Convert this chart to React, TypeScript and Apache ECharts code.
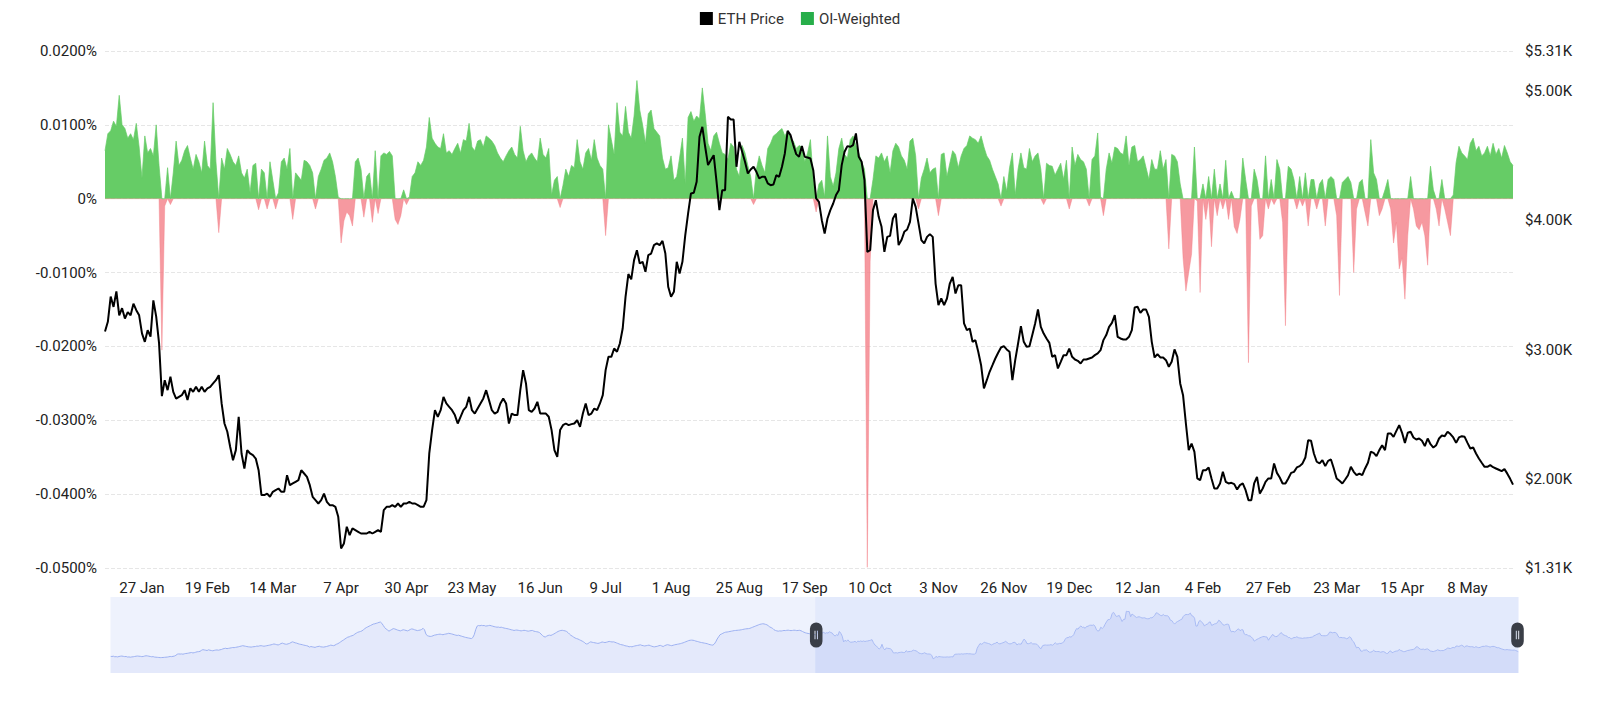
import React, { useEffect, useRef } from "react";
import * as echarts from "echarts";

// Daily categories start here (first day of the full history shown in the slider)
const firstDay = "2023-09-06";

// Tick labels shown on the x axis (dates of the visible labels)
const tickDates = [
  "2025-01-27", "2025-02-19", "2025-03-14", "2025-04-07", "2025-04-30", "2025-05-23",
  "2025-06-16", "2025-07-09", "2025-08-01", "2025-08-25", "2025-09-17", "2025-10-10",
  "2025-11-03", "2025-11-26", "2025-12-19", "2026-01-12", "2026-02-04", "2026-02-27",
  "2026-03-23", "2026-04-15", "2026-05-08",
];

// ETH price (USD), history before the zoom window (seen in the slider only)
const ethPriceHistory = [
  1630,1620,1640,1600,1610,1590,1620,1640,1650,1630,
  1610,1620,1580,1590,1570,1590,1600,1620,1640,1650,
  1640,1630,1610,1620,1650,1670,1660,1640,1620,1600,
  1610,1580,1570,1560,1550,1540,1545,1550,1560,1570,
  1580,1600,1620,1610,1630,1650,1700,1780,1800,1790,
  1800,1780,1810,1830,1840,1860,1880,1900,1870,1890,
  1920,1950,1960,1980,2050,2100,2080,2060,2040,2090,
  2060,2040,2020,2050,2070,2080,2060,2090,2110,2150,
  2180,2200,2170,2190,2210,2230,2250,2240,2260,2280,
  2300,2330,2350,2380,2360,2340,2320,2300,2290,2280,
  2300,2310,2320,2350,2340,2370,2380,2360,2340,2360,
  2380,2400,2420,2440,2470,2500,2480,2450,2430,2470,
  2530,2560,2520,2490,2480,2510,2540,2600,2650,2620,
  2580,2560,2520,2490,2470,2450,2420,2400,2380,2350,
  2280,2320,2300,2280,2260,2300,2320,2340,2300,2290,
  2280,2300,2320,2350,2380,2420,2400,2380,2420,2480,
  2520,2580,2650,2720,2780,2850,2920,2980,3000,3050,
  3080,3120,3200,3260,3320,3350,3380,3420,3500,3580,
  3650,3700,3750,3800,3850,3900,3920,3950,3980,4020,
  4040,3950,3800,3650,3550,3480,3400,3460,3520,3580,
  3560,3520,3480,3450,3420,3460,3500,3480,3450,3420,
  3460,3520,3560,3540,3500,3470,3440,3460,3480,3520,
  3600,3500,3200,3080,3050,3030,3040,3080,3120,3140,
  3160,3180,3190,3170,3150,3180,3200,3220,3250,3230,
  3210,3180,3150,3120,3100,3120,3080,3050,3020,2990,
  2960,2940,2920,2900,2880,2950,3150,3500,3750,3800,
  3780,3810,3790,3800,3760,3770,3790,3810,3780,3750,
  3720,3700,3680,3690,3660,3680,3650,3620,3600,3580,
  3560,3530,3500,3480,3450,3470,3480,3460,3440,3420,
  3440,3460,3450,3420,3400,3420,3440,3450,3400,3380,
  3360,3340,3300,3200,3100,3020,2990,3050,3100,3120,
  3100,3150,3200,3260,3320,3380,3420,3450,3460,3440,
  3420,3380,3300,3200,3110,3050,2980,2920,2880,2850,
  2800,2750,2700,2650,2550,2500,2520,2600,2650,2620,
  2600,2580,2560,2540,2560,2600,2640,2620,2600,2620,
  2650,2680,2660,2640,2650,2620,2580,2540,2500,2460,
  2440,2420,2380,2360,2340,2300,2320,2300,2330,2360,
  2380,2400,2420,2440,2400,2380,2360,2380,2400,2420,
  2380,2340,2310,2300,2320,2340,2380,2400,2360,2320,
  2380,2420,2450,2430,2400,2380,2410,2440,2460,2480,
  2500,2520,2550,2580,2620,2660,2700,2740,2760,2770,
  2760,2740,2700,2680,2650,2620,2600,2580,2560,2540,
  2520,2480,2450,2430,2420,2500,2650,2850,3000,3150,
  3200,3250,3300,3330,3340,3360,3380,3400,3420,3440,
  3450,3460,3470,3480,3500,3520,3540,3560,3570,3580,
  3600,3640,3680,3720,3760,3800,3840,3880,3900,3920,
  3910,3880,3850,3780,3700,3650,3600,3500,3450,3420,
  3400,3420,3410,3430,3450,3440,3460,3470,3450,3440,
  3450,3470,3460,3440,3450,3460,3430,3380,3330,3290,
  3260,3240,3220,3200,3190,3170,
];

// ETH price (USD), visible window, daily from 14 Jan 2025
const ethPrice = [
  3140,3215,3410,3330,3450,3265,3320,3240,3290,3265,
  3355,3305,3265,3125,3060,3150,3100,3380,3255,3050,
  2640,2763,2686,2790,2673,2620,2634,2647,2686,2610,
  2700,2673,2712,2673,2712,2673,2700,2712,2738,2763,
  2802,2583,2428,2364,2248,2144,2222,2480,2196,2080,
  2222,2196,2183,2157,2067,1874,1874,1886,1861,1899,
  1912,1925,1899,1899,2028,1951,1964,1977,1990,2067,
  2041,2015,1951,1861,1835,1809,1835,1886,1822,1796,
  1796,1783,1706,1461,1500,1629,1564,1616,1603,1590,
  1577,1577,1577,1590,1577,1590,1603,1590,1758,1783,
  1783,1796,1783,1809,1783,1809,1809,1822,1809,1809,
  1796,1783,1783,1835,2196,2377,2531,2480,2531,2634,
  2583,2557,2531,2493,2428,2480,2531,2557,2634,2531,
  2505,2544,2583,2622,2686,2609,2531,2505,2518,2583,
  2622,2583,2428,2505,2493,2493,2686,2841,2738,2531,
  2518,2544,2596,2505,2505,2505,2480,2377,2222,2170,
  2377,2415,2428,2415,2423,2428,2454,2402,2505,2583,
  2493,2505,2544,2531,2583,2647,2841,2944,2944,3008,
  2983,3047,3163,3408,3584,3543,3692,3769,3666,3679,
  3602,3731,3743,3808,3821,3808,3841,3743,3486,3408,
  3447,3679,3589,3679,3885,4053,4208,4213,4298,4646,
  4723,4569,4427,4466,4504,4298,4079,4233,4233,4801,
  4780,4780,4414,4607,4530,4453,4362,4393,4414,4375,
  4324,4337,4337,4285,4272,4277,4349,4337,4414,4517,
  4692,4659,4582,4512,4491,4574,4491,4486,4478,4388,
  4169,4143,4001,3898,4014,4079,4130,4195,4233,4427,
  4530,4574,4569,4582,4672,4491,4453,4311,3756,3769,
  4079,4156,4027,3950,3756,3872,3880,4014,4053,3808,
  3847,3911,3929,3988,4169,4104,3976,3847,3821,3872,
  3893,3872,3511,3344,3395,3344,3395,3511,3563,3434,
  3498,3498,3202,3150,3163,3060,3073,2983,2879,2699,
  2763,2828,2879,2931,2975,3016,3026,3001,2983,2763,
  2918,3047,3181,3060,3021,3026,3112,3202,3310,3176,
  3124,3086,3052,2944,2957,2854,2905,2957,2957,3008,
  2944,2923,2913,2892,2923,2923,2931,2939,2957,2970,
  2995,3073,3112,3176,3207,3266,3099,3086,3078,3078,
  3099,3150,3326,3331,3284,3310,3310,3253,3060,2939,
  2965,2939,2939,2918,2867,2905,3001,2944,2738,2647,
  2428,2222,2273,2209,2003,1990,2067,2067,2088,2003,
  1925,1925,1964,2054,1977,1964,1969,1959,1917,1951,
  1964,1912,1835,1835,1964,2015,1886,1925,1977,2003,
  2003,2119,2046,2010,1964,1964,2003,2046,2054,2088,
  2098,2119,2165,2299,2294,2196,2132,2119,2144,2098,
  2139,2150,2080,2003,1985,1964,1995,2028,2093,2054,
  2028,2041,2028,2080,2124,2209,2201,2175,2222,2260,
  2222,2351,2351,2325,2371,2415,2356,2278,2356,2364,
  2320,2304,2312,2294,2253,2312,2268,2242,2260,2312,
  2335,2330,2364,2346,2320,2278,2320,2330,2325,2278,
  2235,2242,2196,2157,2124,2093,2093,2106,2090,2080,
  2070,2060,2075,2040,2000,1955,
];

// OI-weighted funding rate (%), visible window, daily from 14 Jan 2025
const oiWeightedRate = [
  0.0065,0.0088,0.0092,0.0105,0.0098,0.0140,0.0100,0.0095,0.0082,0.0088,
  0.0080,0.0102,0.0070,0.0028,0.0085,0.0062,0.0068,0.0058,0.0100,0.0045,
  -0.0205,-0.0010,0.0042,-0.0008,0.0035,0.0078,0.0045,0.0052,0.0065,0.0072,
  0.0055,0.0040,0.0060,0.0050,0.0035,0.0078,0.0045,0.0040,0.0130,0.0050,
  -0.0046,0.0055,0.0040,0.0068,0.0060,0.0050,0.0045,0.0058,0.0035,0.0028,
  0.0040,0.0008,0.0045,0.0048,-0.0015,0.0040,0.0035,-0.0014,0.0050,0.0025,
  -0.0014,0.0008,0.0050,0.0055,0.0040,0.0068,-0.0028,0.0035,0.0030,0.0025,
  0.0052,0.0050,0.0045,0.0035,-0.0014,0.0030,0.0040,0.0052,0.0055,0.0062,
  0.0050,0.0030,0.0002,-0.0060,-0.0030,-0.0018,-0.0023,-0.0037,0.0050,0.0055,
  0.0040,-0.0025,0.0030,0.0035,-0.0032,0.0065,-0.0020,0.0058,0.0062,0.0060,
  0.0064,0.0058,-0.0028,-0.0035,-0.0023,0.0012,-0.0008,0.0002,0.0030,0.0035,
  0.0050,0.0045,0.0052,0.0070,0.0110,0.0082,0.0075,0.0070,0.0068,0.0088,
  0.0062,0.0065,0.0060,0.0068,0.0075,0.0062,0.0080,0.0078,0.0102,0.0070,
  0.0065,0.0078,0.0080,0.0070,0.0085,0.0082,0.0078,0.0072,0.0062,0.0055,
  0.0050,0.0058,0.0065,0.0070,0.0060,0.0055,0.0098,0.0065,0.0050,0.0058,
  0.0062,0.0055,0.0050,0.0082,0.0060,0.0055,0.0068,0.0005,0.0025,0.0030,
  -0.0012,0.0018,0.0040,0.0030,0.0045,0.0042,0.0080,0.0050,0.0040,0.0062,
  0.0068,0.0052,0.0080,0.0055,0.0045,0.0040,-0.0050,0.0100,0.0080,0.0060,
  0.0130,0.0090,0.0085,0.0125,0.0090,0.0082,0.0112,0.0160,0.0120,0.0100,
  0.0075,0.0115,0.0120,0.0095,0.0090,0.0085,0.0055,0.0040,0.0042,0.0058,
  0.0025,0.0030,0.0055,0.0082,0.0020,0.0110,0.0118,0.0105,0.0112,0.0108,
  0.0150,0.0115,0.0075,0.0065,0.0085,0.0090,0.0075,0.0062,0.0060,0.0053,
  0.0075,0.0070,0.0040,0.0030,0.0072,0.0062,0.0045,0.0030,-0.0008,0.0040,
  0.0058,0.0045,0.0035,0.0068,0.0075,0.0085,0.0088,0.0092,0.0095,0.0085,
  0.0092,0.0082,0.0078,0.0068,0.0072,0.0070,0.0050,0.0062,0.0080,0.0026,
  -0.0018,0.0020,0.0025,0.0002,0.0085,0.0030,0.0017,0.0035,0.0068,0.0082,
  0.0060,0.0055,0.0080,0.0085,0.0072,0.0062,0.0050,0.0040,-0.0499,-0.0085,
  0.0026,0.0058,0.0055,0.0062,0.0050,0.0058,0.0035,0.0065,0.0075,0.0070,
  0.0058,0.0052,0.0040,0.0078,0.0082,0.0058,-0.0014,0.0028,0.0040,0.0055,
  0.0035,0.0040,0.0042,-0.0023,0.0060,0.0062,0.0030,0.0048,0.0065,0.0060,
  0.0042,0.0058,0.0068,0.0072,0.0085,0.0082,0.0080,0.0075,0.0085,0.0070,
  0.0058,0.0052,0.0040,0.0030,0.0020,-0.0010,0.0030,0.0010,0.0042,0.0062,
  0.0005,0.0040,0.0062,0.0042,0.0040,0.0068,0.0050,0.0058,0.0062,0.0040,
  -0.0008,0.0048,0.0045,0.0044,0.0032,0.0040,0.0048,0.0026,0.0052,-0.0014,
  0.0070,0.0045,0.0060,0.0053,0.0050,0.0040,-0.0010,0.0053,0.0058,0.0089,
  0.0002,-0.0023,0.0040,0.0062,0.0048,0.0070,0.0068,0.0062,0.0060,0.0085,
  0.0045,0.0070,0.0072,0.0050,0.0053,0.0058,0.0042,0.0026,0.0053,0.0040,
  0.0040,0.0065,0.0040,0.0053,-0.0068,0.0060,0.0058,0.0050,0.0020,-0.0080,
  -0.0125,-0.0100,-0.0075,0.0070,-0.0003,-0.0127,0.0020,-0.0028,0.0030,-0.0065,
  0.0040,-0.0023,0.0020,-0.0014,0.0052,-0.0028,0.0010,-0.0038,-0.0047,-0.0028,
  0.0055,0.0026,-0.0222,-0.0010,0.0040,0.0026,-0.0055,-0.0050,0.0058,-0.0014,
  0.0026,-0.0008,0.0053,0.0040,-0.0032,-0.0172,0.0044,0.0040,0.0026,-0.0014,
  0.0030,-0.0010,0.0035,-0.0037,0.0026,0.0026,-0.0014,0.0020,0.0026,-0.0037,
  0.0026,0.0030,0.0026,-0.0023,-0.0131,0.0022,0.0026,0.0030,0.0022,-0.0100,
  -0.0014,0.0022,0.0026,-0.0019,-0.0037,0.0080,0.0035,0.0026,-0.0023,-0.0014,
  0.0012,0.0026,-0.0014,-0.0060,-0.0032,-0.0095,-0.0080,-0.0136,-0.0050,0.0030,
  -0.0014,-0.0037,-0.0042,-0.0032,-0.0050,-0.0090,0.0044,0.0012,-0.0014,-0.0037,
  0.0026,-0.0014,-0.0032,-0.0050,0.0005,0.0049,0.0071,0.0062,0.0058,0.0053,
  0.0075,0.0082,0.0065,0.0071,0.0058,0.0062,0.0071,0.0058,0.0075,0.0060,
  0.0068,0.0055,0.0072,0.0062,0.0050,0.0045,
];

const MONTHS = ["Jan", "Feb", "Mar", "Apr", "May", "Jun", "Jul", "Aug", "Sep", "Oct", "Nov", "Dec"];
const FONT = "Roboto";

function formatDay(iso: string): string {
  const [, m, d] = iso.split("-");
  return `${parseInt(d, 10)} ${MONTHS[parseInt(m, 10) - 1]}`;
}

export default function App() {
  const ref = useRef<HTMLDivElement>(null);

  useEffect(() => {
    if (!ref.current) return;
    const chart = echarts.init(ref.current, null, { renderer: "svg" });

    const histLen = ethPriceHistory.length;
    const total = histLen + ethPrice.length;
    const t0 = Date.parse(firstDay + "T00:00:00Z");
    const categories: string[] = [];
    for (let i = 0; i < total; i++) {
      categories.push(new Date(t0 + i * 86400000).toISOString().slice(0, 10));
    }
    const tickSet = new Set(tickDates);
    const price = [...ethPriceHistory, ...ethPrice];
    const rate: (number | null)[] = [...ethPriceHistory.map(() => null), ...oiWeightedRate];
    const ratePos = rate.map((v) => (v == null ? null : Math.max(v, 0)));
    const rateNeg = rate.map((v) => (v == null ? null : Math.min(v, 0)));

    const handlePath =
      "path://M6,0 A6,6 0 0 1 12,6 L12,18 A6,6 0 0 1 6,24 A6,6 0 0 1 0,18 L0,6 A6,6 0 0 1 6,0 Z " +
      "M4.4,8 L4.4,16 L5.3,16 L5.3,8 Z M6.7,8 L6.7,16 L7.6,16 L7.6,8 Z";

    chart.setOption({
      animation: false,
      backgroundColor: "#ffffff",
      textStyle: { fontFamily: FONT },
      legend: {
        top: 6,
        left: "center",
        data: ["ETH Price", "OI-Weighted"],
        icon: "rect",
        itemWidth: 13,
        itemHeight: 13,
        itemGap: 17,
        textStyle: { fontSize: 15, color: "#333", fontFamily: FONT },
      },
      grid: { left: 105, right: 87, top: 51, bottom: 145 },
      xAxis: {
        type: "category",
        data: categories,
        boundaryGap: false,
        axisLine: { show: false },
        axisTick: { show: false },
        splitLine: { show: false },
        axisLabel: {
          interval: (_i: number, v: string) => tickSet.has(v),
          formatter: (v: string) => formatDay(v),
          color: "#222",
          fontSize: 15,
          margin: 12,
          fontFamily: FONT,
        },
      },
      yAxis: [
        {
          type: "value",
          position: "left",
          min: -0.05,
          max: 0.02,
          interval: 0.01,
          axisLine: { show: false },
          axisTick: { show: false },
          splitLine: { show: true, lineStyle: { type: "dashed", color: "#e6e6e6" } },
          axisLabel: {
            color: "#222",
            fontSize: 15,
            margin: 8,
            fontFamily: FONT,
            formatter: (v: number) => (Math.abs(v) < 1e-9 ? "0%" : v.toFixed(4) + "%"),
          },
        },
        {
          type: "value",
          position: "right",
          min: 1310,
          max: 5310,
          axisLine: { show: false },
          axisTick: { show: false },
          splitLine: { show: false },
          axisLabel: {
            color: "#222",
            fontSize: 15,
            margin: 12,
            fontFamily: FONT,
            formatter: (v: number) => "$" + (v / 1000).toFixed(2) + "K",
          },
        },
      ],
      dataZoom: [
        {
          type: "slider",
          xAxisIndex: 0,
          startValue: histLen,
          endValue: total - 1,
          left: 108,
          right: 84,
          top: 597,
          height: 76,
          showDetail: false,
          brushSelect: false,
          moveHandleSize: 0,
          borderColor: "transparent",
          backgroundColor: "#eef2fd",
          fillerColor: "rgba(175,192,246,0.16)",
          dataBackground: {
            lineStyle: { color: "#9db1f1", width: 1, opacity: 1 },
            areaStyle: { color: "#e4e9fb", opacity: 1 },
          },
          selectedDataBackground: {
            lineStyle: { color: "#a9bbf3", width: 1, opacity: 1 },
            areaStyle: { color: "#dae2fa", opacity: 1 },
          },
          handleIcon: handlePath,
          handleSize: "33%",
          handleStyle: { color: "#3a3e47", borderColor: "#3a3e47", borderWidth: 0 },
        },
      ],
      series: [
        {
          name: "ETH Price",
          type: "line",
          data: price,
          yAxisIndex: 1,
          symbol: "none",
          showSymbol: false,
          lineStyle: { color: "#000000", width: 2 },
          itemStyle: { color: "#000000" },
          z: 5,
        },
        {
          name: "OI-Weighted",
          type: "line",
          data: ratePos,
          yAxisIndex: 0,
          symbol: "none",
          showSymbol: false,
          lineStyle: { color: "#66cc66", width: 1, opacity: 0.7 },
          areaStyle: { color: "#66cc66", opacity: 1 },
          itemStyle: { color: "#27ae4a" },
          z: 2,
        },
        {
          name: "OI-Weighted",
          type: "line",
          data: rateNeg,
          yAxisIndex: 0,
          symbol: "none",
          showSymbol: false,
          lineStyle: { color: "#f27a83", width: 0.8, opacity: 0.5 },
          areaStyle: { color: "#f47f88", opacity: 0.8 },
          itemStyle: { color: "#27ae4a" },
          z: 2,
        },
      ],
    });

    return () => {
      chart.dispose();
    };
  }, []);

  return (
    <div
      ref={ref}
      style={{ position: "fixed", left: 0, top: 0, width: 1600, height: 713, background: "#fff" }}
    />
  );
}
